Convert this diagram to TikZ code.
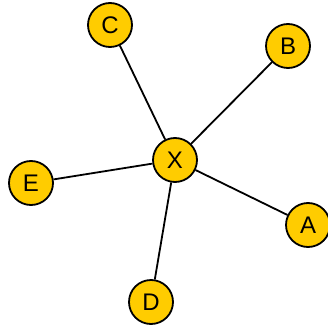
\documentclass[tikz,border=0pt]{standalone}
\usepackage{fontspec}
\setmainfont{Liberation Sans}
\definecolor{nodegold}{HTML}{FFCC00}

\begin{document}
\begin{tikzpicture}[x=1pt,y=-1pt]

\tikzset{
    vertex/.style={circle, draw=black, line width=1.8pt, fill=nodegold,
        minimum size=44pt, inner sep=0pt, font=\fontsize{24}{24}\selectfont},
    spoke/.style={black, line width=1.8pt}
}

\useasboundingbox (0,0) rectangle (328,331);

\node[vertex] (X) at (175,160) {X};
\node[vertex] (A) at (308,225) {A};
\node[vertex] (B) at (288,46)  {B};
\node[vertex] (C) at (110,25)  {C};
\node[vertex] (D) at (151,302) {D};
\node[vertex] (E) at (31,183)  {E};

\foreach \v in {A,B,C,D,E} {
    \draw[spoke] (X) -- (\v);
}

\end{tikzpicture}
\end{document}
